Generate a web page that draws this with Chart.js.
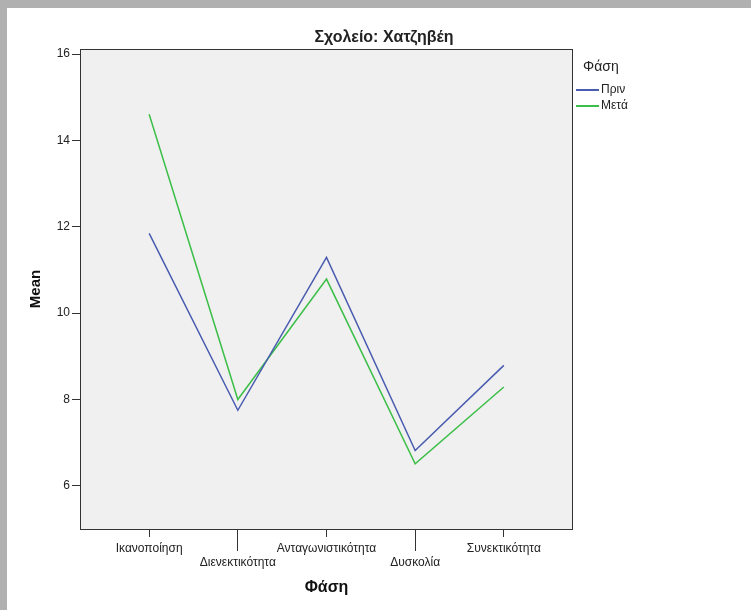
<!DOCTYPE html>
<html>
<head>
<meta charset="utf-8">
<script src="https://cdn.jsdelivr.net/npm/chart.js@4/dist/chart.umd.min.js"></script>
<style>
  body { margin: 0; width: 751px; height: 610px; overflow: hidden; position: relative; background: #fff;
         font-family: "Liberation Sans", Arial, sans-serif; color: #222; }
  #topbar { position: absolute; left: 0; top: 0; width: 751px; height: 8px; background: #b0b0b0; }
  #leftbar { position: absolute; left: 0; top: 0; width: 7px; height: 610px; background: #b0b0b0; }
  #wrap { position: absolute; left: 0; top: 0; width: 751px; height: 610px; }
  #title { position: absolute; left: 284px; top: 27px; width: 200px; text-align: center;
           font: bold 16px "Liberation Sans Narrow", "Liberation Sans", Arial, sans-serif; line-height: 19px; }
  #legend { position: absolute; left: 576px; top: 57px; font-size: 12px; }
  #legend .lt { font-size: 14px; margin-left: 7px; line-height: 18px; margin-bottom: 6px; }
  #legend .it { height: 16px; line-height: 17px; white-space: nowrap; }
  #legend .sw { display: inline-block; width: 23px; height: 2px; vertical-align: middle; margin-right: 2px; }
</style>
</head>
<body>
<div id="topbar"></div>
<div id="leftbar"></div>
<div id="wrap"><canvas id="myChart" width="751" height="610"></canvas></div>
<div id="title">Σχολείο: Χατζηβέη</div>
<div id="legend"></div>
<script>
// Chart data
const categories = ['Ικανοποίηση', 'Διενεκτικότητα', 'Ανταγωνιστικότητα', 'Δυσκολία', 'Συνεκτικότητα'];
const seriesNames = ['Πριν', 'Μετά'];
const priv = [11.85, 7.75, 11.29, 6.82, 8.79];   // Πριν
const meta = [14.61, 8.00, 10.79, 6.51, 8.29];   // Μετά
const yTicks = [6, 8, 10, 12, 14, 16];
const colors = ['#4a5cb0', '#3cbf48'];

const FONT = '"Liberation Sans", Arial, sans-serif';

// plot background, frame and the longer ticks under the lowered labels
const plotFrame = {
    id: 'plotFrame',
    beforeDraw(chart) {
        const { ctx, chartArea: a } = chart;
        ctx.save();
        ctx.fillStyle = '#f0f0f0';
        ctx.fillRect(a.left, a.top, a.right - a.left, a.bottom - a.top);
        ctx.restore();
    },
    afterDraw(chart) {
        const { ctx, chartArea: a } = chart;
        const xs = chart.scales.x;
        ctx.save();
        ctx.strokeStyle = '#333';
        ctx.lineWidth = 1;
        ctx.strokeRect(a.left + 0.5, a.top + 0.5, a.right - a.left - 1, a.bottom - a.top);
        categories.forEach((c, i) => {
            if (i % 2 === 1) {
                const px = Math.round(xs.getPixelForValue(i) - 0.5) + 0.5;
                ctx.beginPath();
                ctx.moveTo(px, a.bottom);
                ctx.lineTo(px, a.bottom + 22);
                ctx.stroke();
            }
        });
        ctx.restore();
    }
};

const ctx = document.getElementById('myChart').getContext('2d');
const myChart = new Chart(ctx, {
    type: 'line',
    data: {
        datasets: [priv, meta].map((vals, k) => ({
            label: seriesNames[k],
            data: vals.map((v, i) => ({ x: i, y: v })),
            borderColor: colors[k],
            borderWidth: 1.5,
            pointRadius: 0,
            fill: false,
            tension: 0,
        })),
    },
    options: {
        responsive: false,
        animation: false,
        layout: { padding: { top: 49, right: 178, bottom: 0, left: 0 } },
        plugins: {
            legend: { display: false },
            tooltip: { enabled: false },
        },
        scales: {
            x: {
                type: 'linear',
                min: -0.78,
                max: 4.78,
                afterBuildTicks: (s) => { s.ticks = categories.map((c, i) => ({ value: i })); },
                afterFit: (s) => { s.height = 81; },
                grid: { drawOnChartArea: false, tickLength: 8, color: '#333' },
                border: { display: false },
                ticks: {
                    autoSkip: false,
                    maxRotation: 0,
                    padding: 4,
                    color: '#222',
                    font: { family: FONT, size: 12 },
                    callback: (v) => (v % 2 === 1 ? ['', categories[v]] : categories[v]),
                },
                title: {
                    display: true,
                    text: 'Φάση',
                    color: '#111',
                    font: { family: FONT, size: 16, weight: 'bold' },
                    padding: { bottom: 13 },
                },
            },
            y: {
                min: 5,
                max: 16.12,
                afterBuildTicks: (s) => { s.ticks = yTicks.map(v => ({ value: v })); },
                afterFit: (s) => { s.width = 80; },
                grid: { drawOnChartArea: false, tickLength: 8, color: '#333' },
                border: { display: false },
                ticks: {
                    padding: 2,
                    color: '#222',
                    font: { family: FONT, size: 12 },
                },
                title: {
                    display: true,
                    text: 'Mean',
                    color: '#111',
                    font: { family: FONT, size: 15, weight: 'bold' },
                    padding: { top: 27 },
                },
            },
        },
    },
    plugins: [plotFrame],
});

// legend
const leg = document.getElementById('legend');
leg.innerHTML = '<div class="lt">Φάση</div>' + seriesNames.map((n, k) =>
    '<div class="it"><span class="sw" style="background:' + colors[k] + '"></span>' + n + '</div>').join('');
</script>
</body>
</html>
